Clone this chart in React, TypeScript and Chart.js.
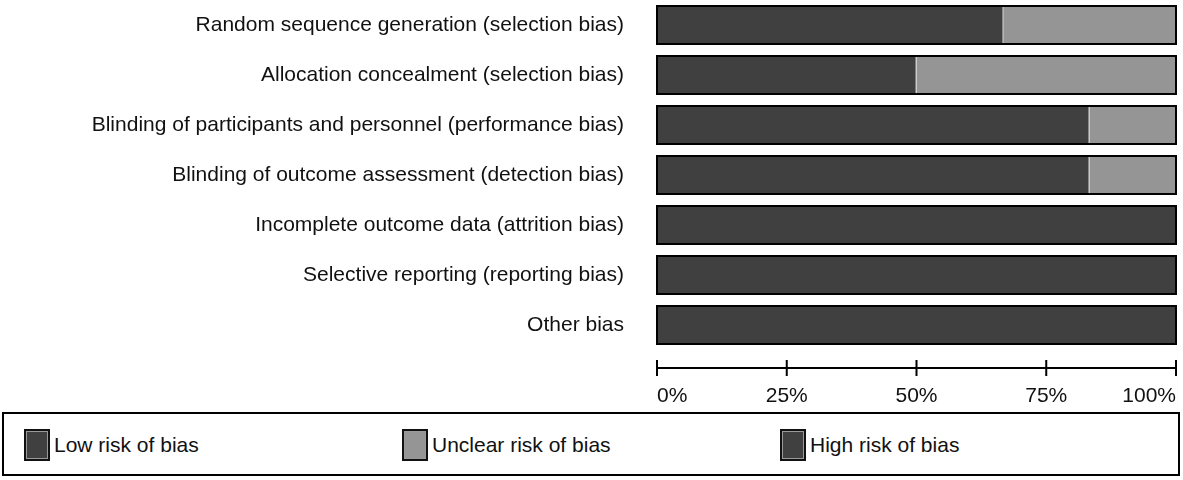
import { Chart, registerables } from 'chart.js'
import { useEffect, useRef } from 'react'

Chart.register(...registerables)

const domains = [
  'Random sequence generation (selection bias)',
  'Allocation concealment (selection bias)',
  'Blinding of participants and personnel (performance bias)',
  'Blinding of outcome assessment (detection bias)',
  'Incomplete outcome data (attrition bias)',
  'Selective reporting (reporting bias)',
  'Other bias',
]
const lowRisk = [66.7, 50, 83.3, 83.3, 100, 100, 100]
const unclearRisk = [33.3, 50, 16.7, 16.7, 0, 0, 0]
const highRisk = [0, 0, 0, 0, 0, 0, 0]
const xTicks = [0, 25, 50, 75, 100]

const LOW = '#404040'
const UNCLEAR = '#959595'
const HIGH = '#404040'
const FONT = 'Liberation Sans, Arial, sans-serif'

const rowFrames = {
  id: 'rowFrames',
  afterDatasetsDraw(chart: Chart) {
    const { ctx } = chart
    const x = chart.scales.x
    const meta = chart.getDatasetMeta(0)
    ctx.save()
    ctx.strokeStyle = '#000'
    ctx.lineWidth = 2
    meta.data.forEach((bar: any) => {
      const h = bar.height
      ctx.strokeRect(x.getPixelForValue(0), bar.y - h / 2, x.getPixelForValue(100) - x.getPixelForValue(0), h)
    })
    // axis line, ticks and labels
    const ay = chart.chartArea.bottom + 18
    ctx.beginPath()
    ctx.moveTo(x.getPixelForValue(0), ay)
    ctx.lineTo(x.getPixelForValue(100), ay)
    xTicks.forEach((t) => {
      const px = x.getPixelForValue(t)
      ctx.moveTo(px, ay - 8)
      ctx.lineTo(px, ay + 8)
    })
    ctx.stroke()
    ctx.fillStyle = '#111'
    ctx.font = `21px ${FONT}`
    ctx.textBaseline = 'middle'
    xTicks.forEach((t, i) => {
      ctx.textAlign = i === 0 ? 'left' : i === xTicks.length - 1 ? 'right' : 'center'
      ctx.fillText(t + '%', x.getPixelForValue(t), ay + 28)
    })
    ctx.restore()
  },
}

function RiskChart() {
  const canvasRef = useRef<HTMLCanvasElement>(null)

  useEffect(() => {
    if (!canvasRef.current) return
    document.body.style.margin = '0'
    const bar = { borderColor: '#8a8a8a', borderWidth: 1, barPercentage: 0.76, categoryPercentage: 1 }
    const chart = new Chart(canvasRef.current, {
      type: 'bar',
      data: {
        labels: domains,
        datasets: [
          { label: 'Low risk of bias', data: lowRisk, backgroundColor: LOW, ...bar },
          { label: 'Unclear risk of bias', data: unclearRisk, backgroundColor: UNCLEAR, ...bar },
          { label: 'High risk of bias', data: highRisk, backgroundColor: HIGH, ...bar },
        ],
      },
      options: {
        indexAxis: 'y',
        responsive: false,
        animation: false,
        layout: { padding: { top: 0, right: 7, left: 0, bottom: 0 } },
        plugins: { legend: { display: false }, tooltip: { enabled: false } },
        scales: {
          x: {
            stacked: true,
            min: 0,
            max: 100,
            afterFit: (s: any) => {
              s.height = 56
              s.paddingLeft = 0
              s.paddingRight = 0
            },
            grid: { display: false },
            border: { display: false },
            ticks: { display: false },
          },
          y: {
            stacked: true,
            afterFit: (s: any) => {
              s.width = 657
              s.paddingTop = 0
              s.paddingBottom = 0
            },
            grid: { display: false },
            border: { display: false },
            ticks: { padding: 25, color: '#111', font: { family: FONT, size: 21 } },
          },
        },
      },
      plugins: [rowFrames],
    })
    return () => chart.destroy()
  }, [])

  return <canvas ref={canvasRef} width={1183} height={406} style={{ display: 'block' }} />
}

function Legend() {
  const items = [
    { label: 'Low risk of bias', color: LOW, left: 20 },
    { label: 'Unclear risk of bias', color: UNCLEAR, left: 398 },
    { label: 'High risk of bias', color: HIGH, left: 776 },
  ]
  return (
    <div
      style={{
        position: 'absolute',
        left: 2,
        top: 412,
        width: 1174,
        height: 60,
        border: '2px solid #000',
        fontFamily: FONT,
        fontSize: 21,
        color: '#111',
      }}
    >
      {items.map((it) => (
        <div key={it.label} style={{ position: 'absolute', left: it.left, top: 15, display: 'flex', alignItems: 'center' }}>
          <span
            style={{
              width: 26,
              height: 32,
              background: it.color,
              border: '2px solid #111',
              boxShadow: 'inset 0 0 0 1px #999',
              boxSizing: 'border-box',
              marginRight: 4,
            }}
          />
          {it.label}
        </div>
      ))}
    </div>
  )
}

export default function App() {
  return (
    <div style={{ position: 'relative', width: 1183, height: 480, background: '#fff' }}>
      <RiskChart />
      <Legend />
    </div>
  )
}
